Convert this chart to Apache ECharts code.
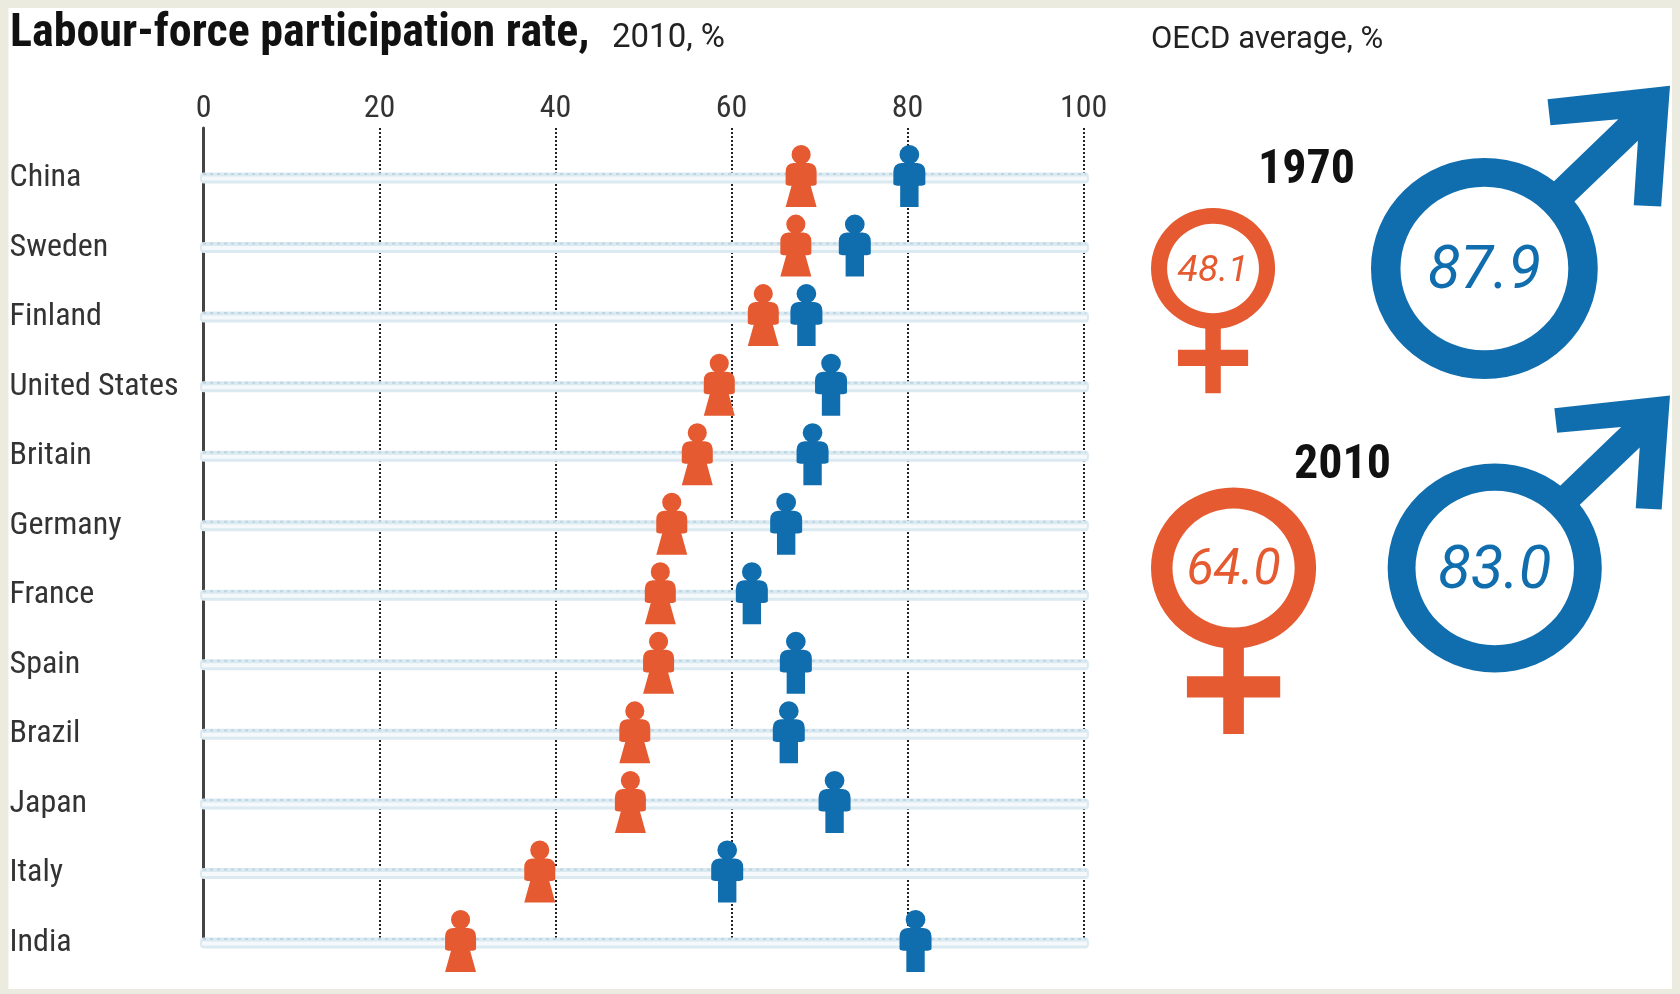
<!DOCTYPE html>
<html>
<head>
<meta charset="utf-8">
<title>Labour-force participation rate</title>
<script src="https://cdn.jsdelivr.net/npm/echarts@6/dist/echarts.min.js"></script>
<style>
    html, body { margin: 0; padding: 0; background: #ecebe0; }
    #chart { width: 1680px; height: 994px; }
</style>
</head>
<body>
<div id="chart"></div>
<script>
const countries = ["China", "Sweden", "Finland", "United States", "Britain", "Germany", "France", "Spain", "Brazil", "Japan", "Italy", "India"];
const women = [67.9, 67.3, 63.6, 58.6, 56.1, 53.2, 51.9, 51.7, 49.0, 48.5, 38.2, 29.2];
const men = [80.2, 74.0, 68.5, 71.3, 69.2, 66.2, 62.3, 67.3, 66.5, 71.7, 59.5, 80.9];

const oecdYears = ["1970", "2010"];
const oecdWomen = [48.1, 64.0];
const oecdMen = [87.9, 83.0];

const ORANGE = "#e55a30";
const BLUE = "#116eae";
const NARROW = "'Roboto Condensed', 'Liberation Sans', sans-serif";
const PLAIN = "Roboto, 'Liberation Sans', sans-serif";

// people glyphs, drawn in a 94 x 186 box
const HEAD = "M47 0A29 29 0 1 1 47 58A29 29 0 1 1 47 0Z";
const WOMAN = "path://" + HEAD + "M24 54L70 54Q94 56 94 80L94 116Q94 122 76 122L94 186L0 186L18 122Q0 122 0 116L0 80Q0 56 24 54Z";
const MAN = "path://" + HEAD + "M24 54L70 54Q94 56 94 80L94 116Q94 122 74 122L74 186L20 186L20 122Q0 122 0 116L0 80Q0 56 24 54Z";

// ring radius follows the value, 1.29px per point
const PX_PER_POINT = 1.29;
const RING_SQUASH = 0.975;

function valueText(cx, cy, v, color) {
    return {
        type: "text",
        style: {
            text: v.toFixed(1), x: cx, y: cy + v * 0.055, fill: color,
            fontFamily: PLAIN, fontStyle: "italic",
            fontSize: Math.min(60, v * 0.78),
            align: "center", verticalAlign: "middle"
        }
    };
}

function renderWoman(params, api) {
    const v = api.value(2);
    const at = api.coord([api.value(0), api.value(1)]);
    const r = v * PX_PER_POINT;
    const cx = at[0] + r;   // left edges line up
    const cy = at[1];
    return {
        type: "group",
        children: [
            { type: "ring", x: cx, y: cy, scaleY: RING_SQUASH, shape: { cx: 0, cy: 0, r: r, r0: r * 0.74 }, style: { fill: ORANGE } },
            { type: "rect", shape: { x: cx - r * 0.125, y: cy + r * 0.9, width: r * 0.25, height: r * 1.11 }, style: { fill: ORANGE } },
            { type: "rect", shape: { x: cx - r * 0.565, y: cy + r * 1.31, width: r * 1.13, height: r * 0.26 }, style: { fill: ORANGE } },
            valueText(cx, cy, v, ORANGE)
        ]
    };
}

const ARROW = [[0.557, -1.493], [1.637, -1.611], [1.559, -0.547], [1.317, -0.558], [1.354, -1.126], [0.7, -0.5], [0.5, -0.66], [1.181, -1.317], [0.583, -1.264]];

function renderMan(params, api) {
    const v = api.value(2);
    const at = api.coord([api.value(0), api.value(1)]);
    const r = v * PX_PER_POINT;
    const cx = at[0] - r * ARROW[1][0];   // arrow tips line up
    const cy = at[1];
    return {
        type: "group",
        children: [
            { type: "polygon", shape: { points: ARROW.map(p => [cx + p[0] * r, cy + p[1] * r]) }, style: { fill: BLUE } },
            { type: "ring", x: cx, y: cy, scaleY: RING_SQUASH, shape: { cx: 0, cy: 0, r: r, r0: r * 0.74 }, style: { fill: BLUE } },
            valueText(cx, cy, v, BLUE)
        ]
    };
}

// pale band behind each row, running just past both ends of the axis
function renderTrack(params, api) {
    const start = api.coord([-0.4, api.value(0)]);
    const end = api.coord([100.6, api.value(0)]);
    const w = end[0] - start[0];
    const y = start[1];
    return {
        type: "group",
        children: [
            { type: "rect", shape: { x: start[0], y: y - 5.5, width: w, height: 11, r: 4 }, style: { fill: "#dbe9f1" } },
            { type: "rect", shape: { x: start[0] + 2, y: y - 1.5, width: w - 4, height: 4 }, style: { fill: "#f5f9fb" } },
            { type: "line", shape: { x1: start[0] + 3, y1: y - 4, x2: end[0] - 3, y2: y - 4 }, style: { stroke: "#bcd5e4", lineWidth: 2, lineDash: [3, 4] } }
        ]
    };
}

const chart = echarts.init(document.getElementById("chart"), null, { renderer: "canvas" });
chart.setOption({
    animation: false,
    backgroundColor: "#ecebe0",
    graphic: [
        { type: "rect", z: -10, shape: { x: 8.5, y: 8, width: 1663.5, height: 981 }, style: { fill: "#ffffff" } }
    ],
    title: [
        { text: "Labour-force participation rate,", left: 5, top: 6, textStyle: { fontFamily: NARROW, fontSize: 46, fontWeight: "bold", color: "#111" } },
        { text: "2010, %", left: 607, top: 17, textStyle: { fontFamily: PLAIN, fontSize: 33, fontWeight: "normal", color: "#222" } },
        { text: "OECD average, %", left: 1146, top: 20, textStyle: { fontFamily: PLAIN, fontSize: 31, fontWeight: "normal", color: "#222" } },
        { text: oecdYears[0], left: 1253, top: 142, textStyle: { fontFamily: NARROW, fontSize: 48, fontWeight: "bold", color: "#111" } },
        { text: oecdYears[1], left: 1289, top: 437, textStyle: { fontFamily: NARROW, fontSize: 48, fontWeight: "bold", color: "#111" } }
    ],
    grid: [
        { left: 203.6, width: 880, top: 128, height: 815 },
        { left: 203.6, width: 880, top: 178, height: 765 },
        { left: 1151, width: 519, top: 268.5, height: 299.5 }
    ],
    xAxis: [
        {
            gridIndex: 0, type: "value", position: "top", min: 0, max: 100, interval: 20,
            axisLine: { show: false }, axisTick: { show: false },
            axisLabel: { margin: 3, fontFamily: NARROW, fontSize: 32, color: "#333" },
            splitLine: { show: true, lineStyle: { color: "#222", width: 2, type: [2, 2] } }
        },
        { gridIndex: 1, type: "value", min: 0, max: 100, show: false },
        { gridIndex: 2, type: "category", data: ["Women", "Men"], boundaryGap: false, show: false }
    ],
    yAxis: [
        {
            gridIndex: 0, type: "value", min: 0, max: 1,
            axisLine: { show: true, lineStyle: { color: "#444", width: 3 } },
            axisTick: { show: false }, axisLabel: { show: false }, splitLine: { show: false }
        },
        {
            gridIndex: 1, type: "category", data: countries, inverse: true, boundaryGap: false,
            axisLine: { show: false }, axisTick: { show: false },
            axisLabel: { margin: 194, align: "left", interval: 0, padding: [4, 0, 0, 0], fontFamily: NARROW, fontSize: 32, color: "#333" }
        },
        { gridIndex: 2, type: "category", data: oecdYears, inverse: true, boundaryGap: false, show: false }
    ],
    series: [
        {
            name: "track", type: "custom", xAxisIndex: 1, yAxisIndex: 1, silent: true,
            data: countries.map(c => [c]), encode: { y: 0 },
            renderItem: renderTrack
        },
        {
            name: "Women", type: "scatter", xAxisIndex: 1, yAxisIndex: 1, clip: false, silent: true, z: 5,
            data: women.map((v, i) => [v, countries[i]]),
            symbol: WOMAN, symbolSize: [31, 62], symbolOffset: [0, -2], itemStyle: { color: ORANGE, opacity: 1 }
        },
        {
            name: "Men", type: "scatter", xAxisIndex: 1, yAxisIndex: 1, clip: false, silent: true, z: 5,
            data: men.map((v, i) => [v, countries[i]]),
            symbol: MAN, symbolSize: [32, 62], symbolOffset: [0, -2], itemStyle: { color: BLUE, opacity: 1 }
        },
        {
            name: "OECD women", type: "custom", xAxisIndex: 2, yAxisIndex: 2, silent: true,
            data: oecdWomen.map((v, i) => ["Women", oecdYears[i], v]),
            renderItem: renderWoman
        },
        {
            name: "OECD men", type: "custom", xAxisIndex: 2, yAxisIndex: 2, silent: true,
            data: oecdMen.map((v, i) => ["Men", oecdYears[i], v]),
            renderItem: renderMan
        }
    ]
});
</script>
</body>
</html>
